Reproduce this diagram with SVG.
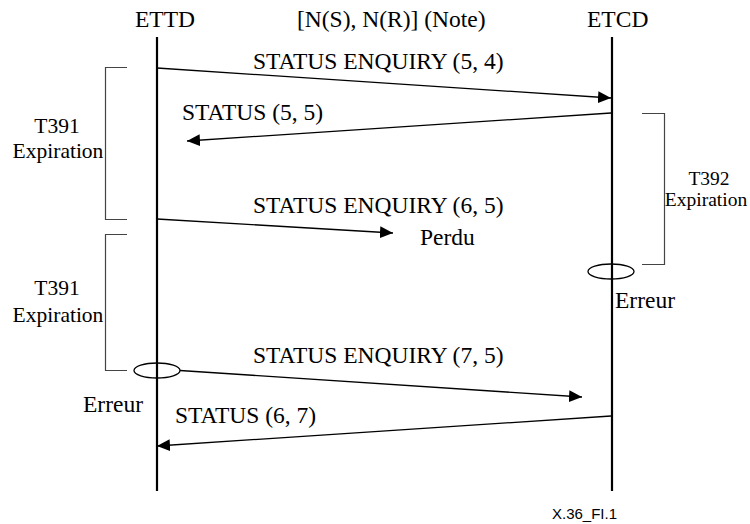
<svg xmlns="http://www.w3.org/2000/svg" width="750" height="524" viewBox="0 0 750 524">
<style>
text{font-family:"Liberation Serif","Times New Roman",serif;font-size:23.5px;fill:#000}
.sm{font-size:21.5px}
.xs{font-size:19.5px}
.ref{font-family:"Liberation Sans",Arial,sans-serif;font-size:15px}
.life{stroke:#000;stroke-width:2.2;fill:none}
.msg{stroke:#000;stroke-width:1.3;fill:none;marker-end:url(#ah)}
.br{stroke:#444;stroke-width:1.2;fill:none}
.err{stroke:#000;stroke-width:1.3;fill:none}
</style>
<defs>
<marker id="ah" markerUnits="userSpaceOnUse" markerWidth="14" markerHeight="14" viewBox="0 0 14 14" refX="13" refY="7" orient="auto">
<path d="M0,1 L13,7 L0,13 Z" fill="#000"/>
</marker>
</defs>
<rect width="750" height="524" fill="#fff"/>
<g id="ettd">
<text x="135" y="27">ETTD</text>
<line class="life" x1="157" y1="37" x2="157" y2="491"/>
</g>
<g id="etcd">
<text x="587" y="27">ETCD</text>
<line class="life" x1="612" y1="37" x2="612" y2="491"/>
</g>
<g id="note">
<text x="297" y="27">[N(S), N(R)] (Note)</text>
</g>
<g id="timer-t391-1">
<path class="br" d="M127,67.5 H105.5 V219.5 H127"/>
<text class="sm" x="57" y="133" text-anchor="middle">T391</text>
<text class="sm" x="58" y="158" text-anchor="middle">Expiration</text>
</g>
<g id="timer-t391-2">
<path class="br" d="M127,234.5 H105.5 V370.5 H127"/>
<text class="sm" x="57" y="295" text-anchor="middle">T391</text>
<text class="sm" x="58" y="322" text-anchor="middle">Expiration</text>
</g>
<g id="timer-t392">
<path class="br" d="M642,113.5 H664.5 V264.5 H642"/>
<text class="xs" x="709" y="185" text-anchor="middle">T392</text>
<text class="xs" x="706" y="206" text-anchor="middle">Expiration</text>
</g>
<g id="error-etcd">
<ellipse class="err" cx="611" cy="271.5" rx="23" ry="7.5"/>
<text x="615" y="308">Erreur</text>
</g>
<g id="error-ettd">
<ellipse class="err" cx="157" cy="370.5" rx="23" ry="7.5"/>
<text x="83" y="412">Erreur</text>
</g>
<g id="lost">
<text x="420" y="245">Perdu</text>
</g>
<g id="connectors">
<line class="msg" x1="157" y1="68" x2="611" y2="98"/>
<line class="msg" x1="611" y1="113" x2="187" y2="141"/>
<line class="msg" x1="157" y1="219" x2="393" y2="233"/>
<line class="msg" x1="180" y1="370.5" x2="582" y2="397"/>
<line class="msg" x1="611" y1="416" x2="157" y2="446"/>
</g>
<g id="labels">
<text x="253" y="69">STATUS ENQUIRY (5, 4)</text>
<text x="182" y="120">STATUS (5, 5)</text>
<text x="253" y="213">STATUS ENQUIRY (6, 5)</text>
<text x="253" y="363">STATUS ENQUIRY (7, 5)</text>
<text x="175" y="423">STATUS (6, 7)</text>
</g>
<text class="ref" x="617" y="519" text-anchor="end">X.36_FI.1</text>
</svg>
